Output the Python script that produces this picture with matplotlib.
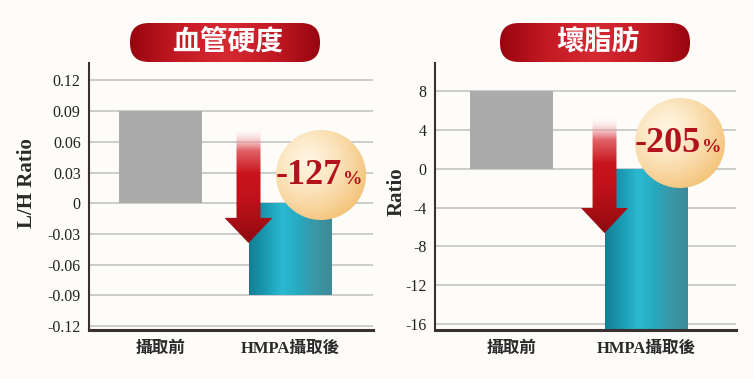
import numpy as np
import matplotlib
matplotlib.use('Agg')
import matplotlib.pyplot as plt
from matplotlib.patches import Circle, FancyBboxPatch, Polygon
from matplotlib.colors import to_rgb

# --- Data ---
categories = ['攝取前', 'HMPA攝取後']
vessel_ratio = [0.09, -0.09]          # L/H Ratio
fat_ratio = [8.0, -16.6]              # Ratio
vessel_ticks = [0.12, 0.09, 0.06, 0.03, 0, -0.03, -0.06, -0.09, -0.12]
vessel_tick_labels = ['0.12', '0.09', '0.06', '0.03', '0', '-0.03', '-0.06', '-0.09', '-0.12']
fat_ticks = [8, 4, 0, -4, -8, -12, -16]
vessel_change = '-127'
fat_change = '-205'
titles = ['血管硬度', '壞脂肪']

# --- Style ---
BG = '#FDFCF9'
SERIF = ['Liberation Serif', 'Noto Sans CJK TC']
CJK = ['Noto Sans CJK TC', 'DejaVu Sans']
W, H = 754, 379

fig = plt.figure(figsize=(W / 100, H / 100), dpi=100)
fig.patch.set_facecolor(BG)


def px_axes(x0, y0, x1, y1):
    # axes from pixel box (top-left origin)
    return fig.add_axes([x0 / W, 1 - y1 / H, (x1 - x0) / W, (y1 - y0) / H])


def grad_img(ax, colors, extent, horizontal=True, n=256, alpha=None):
    cols = np.array([to_rgb(c) for c in colors])
    t = np.linspace(0, 1, n)
    pos = np.linspace(0, 1, len(cols))
    rgb = np.stack([np.interp(t, pos, cols[:, k]) for k in range(3)], axis=-1)
    if alpha is not None:
        a = np.interp(t, np.linspace(0, 1, len(alpha)), alpha)
        rgb = np.concatenate([rgb, a[:, None]], axis=-1)
    # vertical: first colour at the top
    img = rgb[None, :, :] if horizontal else rgb[:, None, :]
    return ax.imshow(img, extent=extent, aspect='auto', interpolation='bicubic',
                     origin='upper', zorder=3)


def setup_axes(ax, ylim, ticks, labels, ylabel, label_x, label_y):
    ax.set_facecolor('none')
    ax.set_xlim(-0.55, 1.64)
    ax.set_ylim(*ylim)
    ax.set_yticks(ticks)
    ax.set_yticklabels(labels, fontfamily=SERIF, fontsize=11.5, color='#222222')
    ax.set_xticks([0, 1])
    ax.set_xticklabels(categories, fontfamily=SERIF, fontsize=12, fontweight='bold', color='#2a2a2a')
    ax.tick_params(length=0, axis='y', pad=6)
    ax.tick_params(length=0, axis='x', pad=8)
    ax.yaxis.grid(True, color='#C9C9C9', lw=1.3)
    ax.set_axisbelow(True)
    for s in ['top', 'right']:
        ax.spines[s].set_visible(False)
    ax.spines['left'].set_color('#3a3030')
    ax.spines['left'].set_linewidth(1.5)
    ax.spines['bottom'].set_color('#3a3030')
    ax.spines['bottom'].set_linewidth(2.2)
    ax.set_ylabel(ylabel, fontfamily=SERIF, fontsize=15, fontweight='bold', color='#2a2a2a')
    ax.yaxis.set_label_coords(label_x, label_y)


def draw_bars(ax, values, width):
    bars = ax.bar([0, 1], values, width=width, color=['#ABABAB', '#1E9FB6'], zorder=2)
    r = bars[1]
    ext = [r.get_x(), r.get_x() + r.get_width(), r.get_y(), r.get_y() + r.get_height()]
    im = grad_img(ax, ['#127F94', '#1A9AB2', '#2BBAD2', '#27A9BF', '#3A97A6', '#3E8A98'],
                  [ext[0], ext[1], min(ext[2:]), max(ext[2:])])
    im.set_zorder(2.1)
    im.set_clip_path(r)
    return bars


def draw_arrow(ax, x, top_f, base_f, tip_f, shaft_w, head_w):
    y0, y1 = ax.get_ylim()
    fy = lambda f: y0 + f * (y1 - y0)
    pts = [(x - shaft_w / 2, fy(top_f)), (x + shaft_w / 2, fy(top_f)),
           (x + shaft_w / 2, fy(base_f)), (x + head_w / 2, fy(base_f)),
           (x, fy(tip_f)),
           (x - head_w / 2, fy(base_f)), (x - shaft_w / 2, fy(base_f))]
    poly = Polygon(pts, closed=True, fc='none', ec='none', transform=ax.transData)
    ax.add_patch(poly)
    im = grad_img(ax, ['#FFFFFF', '#E05A60', '#C8141C', '#C0121A', '#AA0E15', '#8E0A10'],
                  [x - head_w / 2, x + head_w / 2, fy(tip_f), fy(top_f)],
                  horizontal=False, alpha=[0.0, 0.95, 1, 1, 1, 1])
    im.set_zorder(4)
    im.set_clip_path(poly)


def draw_badge(cx, cy, r, text):
    bx = px_axes(cx - r, cy - r, cx + r, cy + r)
    bx.set_xlim(0, 2 * r)
    bx.set_ylim(0, 2 * r)
    bx.axis('off')
    yy, xx = np.mgrid[0:1:200j, 0:1:200j]
    d = np.clip(np.hypot(xx - 0.35, yy - 0.35) / 0.85, 0, 1)
    c0, c1 = np.array(to_rgb('#FFF6E2')), np.array(to_rgb('#F1B65E'))
    img = c0 + (c1 - c0) * d[..., None] ** 1.3
    circ = Circle((r, r), r, fc='none', ec='none')
    bx.add_patch(circ)
    im = bx.imshow(img, extent=[0, 2 * r, 0, 2 * r], aspect='auto', origin='upper')
    im.set_clip_path(circ)
    bx.text(r + 21, r - 9, text, ha='right', va='baseline', fontfamily=SERIF,
            fontsize=26, fontweight='bold', color='#B2121B')
    bx.text(r + 22, r - 9, '%', ha='left', va='baseline', fontfamily=SERIF,
            fontsize=14, fontweight='bold', color='#B2121B')


def draw_pill(x0, y0, x1, y1, text):
    w, h = x1 - x0, y1 - y0
    px = px_axes(x0, y0, x1, y1)
    px.set_xlim(0, w)
    px.set_ylim(0, h)
    px.axis('off')
    pill = FancyBboxPatch((0, 0), w, h, boxstyle=f'round,pad=0,rounding_size={h / 2 - 0.5}',
                          fc='none', ec='none')
    px.add_patch(pill)
    im = grad_img(px, ['#98050F', '#C41A24', '#D62A33', '#C41A24', '#98050F'], [0, w, 0, h])
    im.set_clip_path(pill)
    px.text(w / 2 + 3, h / 2, text, ha='center', va='center', fontfamily=CJK,
            fontsize=20, fontweight='bold', color='white', zorder=5)


# --- Left panel: vessel stiffness ---
ax1 = px_axes(89, 63, 373, 330)
setup_axes(ax1, (-0.1239, 0.137), vessel_ticks, vessel_tick_labels, 'L/H Ratio', -0.183, 0.55)
b1 = draw_bars(ax1, vessel_ratio, 0.64)
draw_arrow(ax1, b1[1].get_x(), 0.76, 0.42, 0.326, 0.185, 0.37)

# --- Right panel: bad fat ---
ax2 = px_axes(435, 63, 736, 330)
setup_axes(ax2, (-16.62, 10.9), fat_ticks, [str(t) for t in fat_ticks], 'Ratio', -0.093, 0.517)
ax2.set_xlim(-0.57, 1.67)
b2 = draw_bars(ax2, fat_ratio, 0.617)
draw_arrow(ax2, b2[1].get_x(), 0.798, 0.457, 0.363, 0.178, 0.35)

# --- Decorations ---
draw_badge(321, 175, 45, vessel_change)
draw_badge(680, 143, 45, fat_change)
draw_pill(130, 23, 320, 62, titles[0])
draw_pill(500, 23, 690, 62, titles[1])

fig.savefig('out.png', dpi=100, facecolor=BG)
